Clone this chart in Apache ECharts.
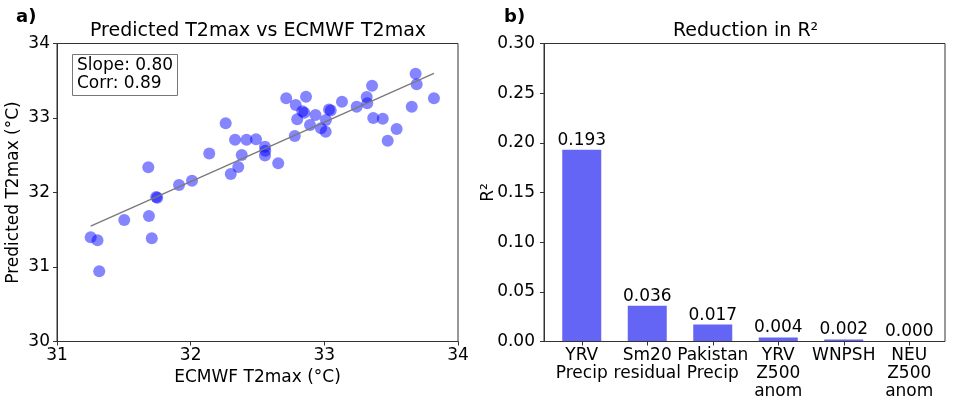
<!DOCTYPE html>
<html>
<head>
<meta charset="utf-8">
<script src="https://cdn.jsdelivr.net/npm/echarts@6/dist/echarts.min.js"></script>
<style>
html,body{margin:0;padding:0;background:#fff;}
#chart{width:956px;height:407px;}
</style>
</head>
<body>
<div id="chart"></div>
<script>
// ---- Panel a) scatter data ----
var ecmwfX = [31.683,31.913,32.010,31.742,31.750,31.688,31.503,31.252,31.303,31.709,31.316,
  32.139,32.300,32.356,32.382,32.262,32.332,32.418,32.489,32.556,32.558,32.556,32.655,32.779,
  32.715,32.863,32.786,32.835,32.850,32.934,32.797,32.893,32.975,33.010,33.012,33.035,33.048,
  33.132,33.242,33.317,33.321,33.357,33.366,33.437,33.541,33.474,33.654,33.683,33.691,33.820];
var predictedY = [32.338,32.101,32.158,31.940,31.930,31.685,31.631,31.399,31.358,31.385,30.944,
  32.523,32.248,32.342,32.503,32.929,32.709,32.709,32.714,32.615,32.561,32.497,32.392,32.758,
  33.264,33.286,33.174,33.090,33.070,33.040,32.983,32.906,32.862,32.816,32.973,33.115,33.100,
  33.219,33.152,33.282,33.197,33.432,33.000,32.989,32.852,32.695,33.152,33.595,33.454,33.264];
var trendX = [31.252, 33.820];
var trendY = [31.550, 33.600];
var xTicks = [31, 34, 1];
var yTicks = [30, 34, 1];

// ---- Panel b) bar data ----
var predictors = ['YRV\nPrecip','Sm20\nresidual','Pakistan\nPrecip','YRV\nZ500\nanom','WNPSH','NEU\nZ500\nanom'];
var r2Reduction = [0.193, 0.036, 0.017, 0.004, 0.002, 0.000];
var r2Ticks = [0, 0.30, 0.05];

var FONT = 'DejaVu Sans';
var AX = '#333';

var scatterData = ecmwfX.map(function(x, i){ return [x, predictedY[i]]; });
var trendData = trendX.map(function(x, i){ return [x, trendY[i]]; });

var chart = echarts.init(document.getElementById('chart'), null, {renderer:'canvas'});

function axisCommon(){
  return {
    axisLine:{show:true, onZero:false, lineStyle:{color:AX, width:1}},
    axisTick:{show:true, inside:false, length:4, lineStyle:{color:AX, width:1}},
    splitLine:{show:false},
    axisLabel:{color:'#000', fontFamily:FONT, fontSize:17, lineHeight:18},
    nameTextStyle:{color:'#000', fontFamily:FONT, fontSize:17}
  };
}

var xa0 = axisCommon();
xa0.type='value'; xa0.gridIndex=0; xa0.min=xTicks[0]; xa0.max=xTicks[1]; xa0.interval=xTicks[2];
xa0.name='ECMWF T2max (°C)'; xa0.nameLocation='middle'; xa0.nameGap=25;
xa0.axisLabel.margin=5;

var ya0 = axisCommon();
ya0.type='value'; ya0.gridIndex=0; ya0.min=yTicks[0]; ya0.max=yTicks[1]; ya0.interval=yTicks[2];
ya0.name='Predicted T2max (°C)'; ya0.nameLocation='middle'; ya0.nameGap=35;
ya0.axisLabel.margin=7;

var xa1 = axisCommon();
xa1.type='category'; xa1.gridIndex=1; xa1.data=predictors;
xa1.axisLine.show=false;
xa1.axisTick.alignWithLabel=true;
xa1.axisLabel.margin=5; xa1.axisLabel.interval=0;

var ya1 = axisCommon();
ya1.type='value'; ya1.gridIndex=1; ya1.min=r2Ticks[0]; ya1.max=r2Ticks[1]; ya1.interval=r2Ticks[2];
ya1.offset=5;
ya1.name='R²'; ya1.nameLocation='middle'; ya1.nameGap=47; ya1.nameMoveOverlap=false;
ya1.axisLabel.margin=9;
ya1.axisLabel.formatter=function(v){ return v.toFixed(2); };

var option = {
  backgroundColor:'#fff',
  animation:false,
  title:[
    {text:'a)', left:16, top:8, padding:0, textStyle:{fontFamily:FONT, fontSize:18, fontWeight:'bold', color:'#000'}},
    {text:'Predicted T2max vs ECMWF T2max', left:90, top:22, padding:0, textStyle:{fontFamily:FONT, fontSize:19, fontWeight:'normal', color:'#000'}},
    {text:'b)', left:504, top:8, padding:0, textStyle:{fontFamily:FONT, fontSize:18, fontWeight:'bold', color:'#000'}},
    {text:'Reduction in R²', left:673, top:22, padding:0, textStyle:{fontFamily:FONT, fontSize:19, fontWeight:'normal', color:'#000'}},
    {text:'Slope: 0.80\nCorr: 0.89', left:72, top:54, padding:[3,5,3,5], borderColor:'#777', borderWidth:1, backgroundColor:'#fff',
      textStyle:{fontFamily:FONT, fontSize:17, fontWeight:'normal', color:'#000', lineHeight:18}}
  ],
  graphic:[
    {type:'rect', shape:{x:544, y:43.5, width:401, height:298}, silent:true, z:100,
      style:{fill:'none', stroke:AX, lineWidth:1}}
  ],
  grid:[
    {left:57, top:43.5, width:401, height:298, show:true, borderColor:AX, borderWidth:1, backgroundColor:'transparent'},
    {left:549, top:43.5, width:393, height:298, show:false}
  ],
  xAxis:[xa0, xa1],
  yAxis:[ya0, ya1],
  series:[
    {type:'line', xAxisIndex:0, yAxisIndex:0, data:trendData, symbol:'none', silent:true,
      lineStyle:{color:'#7a7a7a', width:1.4}, z:3},
    {type:'scatter', xAxisIndex:0, yAxisIndex:0, data:scatterData, symbol:'circle', symbolSize:12,
      itemStyle:{color:'rgba(0,0,255,0.6)', borderWidth:0}, z:2},
    {type:'bar', xAxisIndex:1, yAxisIndex:1, data:r2Reduction, barWidth:39,
      itemStyle:{color:'#6464f5'},
      label:{show:true, position:'top', distance:1, fontFamily:FONT, fontSize:17, color:'#000',
        formatter:function(p){ return p.value.toFixed(3); }}}
  ]
};
chart.setOption(option);
</script>
</body>
</html>
